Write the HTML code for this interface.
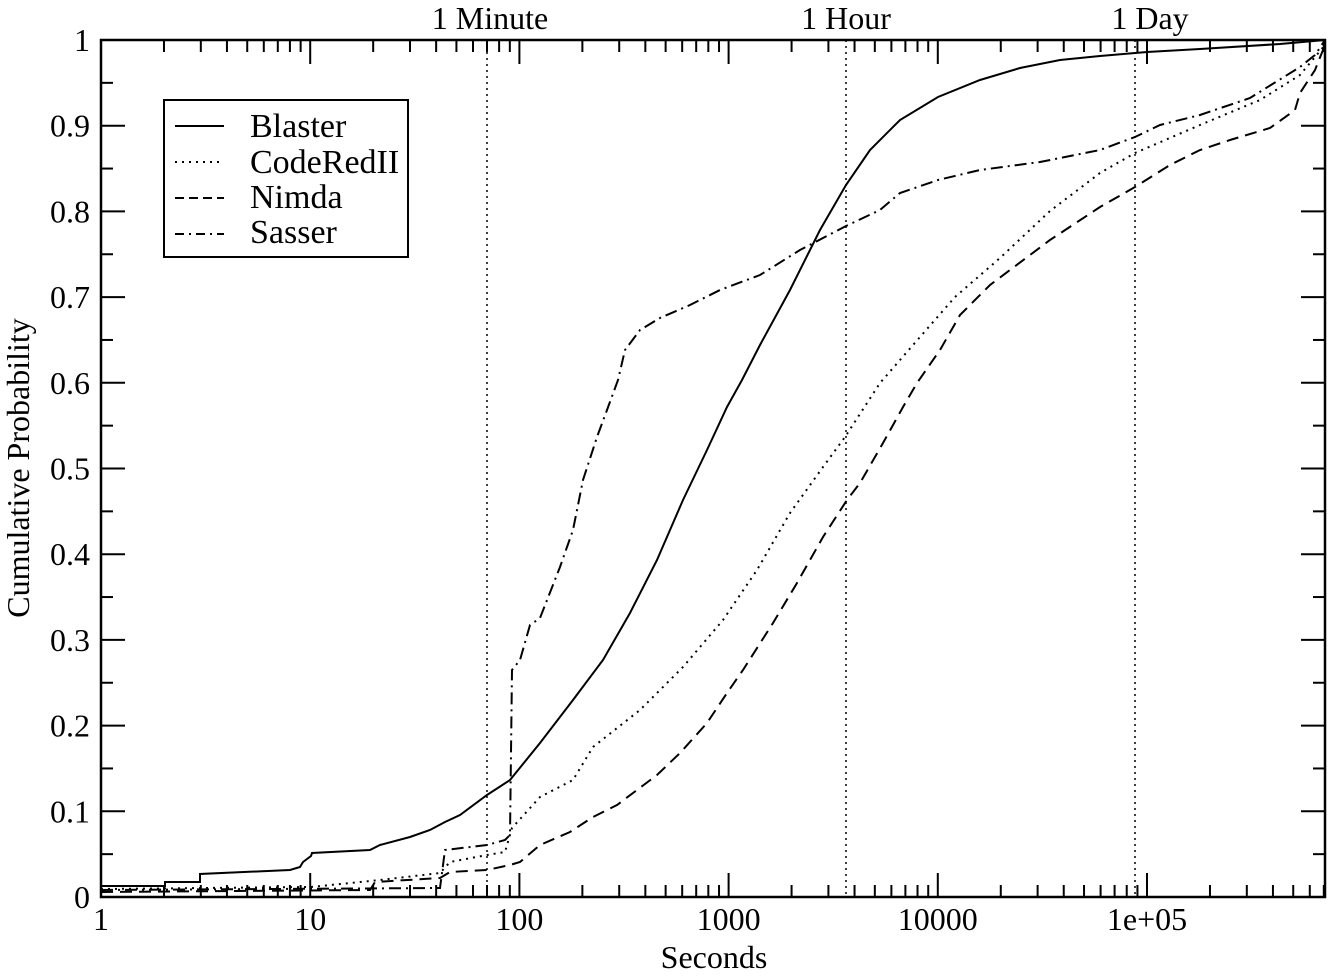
<!DOCTYPE html>
<html><head><style>html,body{margin:0;padding:0;background:#fff}svg{display:block}text{font-family:"Liberation Serif",serif;font-size:32px;fill:#000}</style></head>
<body>
<svg width="1340" height="976" viewBox="0 0 1340 976" xmlns="http://www.w3.org/2000/svg">
<g stroke="#000" stroke-width="1.5" stroke-dasharray="2,4" fill="none">
<line x1="487" y1="40" x2="487" y2="897"/><line x1="846" y1="40" x2="846" y2="897"/><line x1="1135" y1="40" x2="1135" y2="897"/>
</g>
<g id="ticks" stroke="#000" stroke-width="2"></g>
<g fill="none" stroke="#000" stroke-width="2">
<polyline points="101,886 165,886 165,882 200,882 200,874 290,870 300,867 303,862 311,856 312,853 370,850 380,845 410,837 430,830 445,822 460,815 487,795 510,780 540,743 573,700 603,660 630,613 657,560 683,500 707,450 727,407 742,380 760,345 790,290 820,230 846,185 870,150 900,120 938,97 980,80 1020,68 1060,60 1100,56 1147,52 1200,49 1280,44 1325,40"/>
<polyline stroke-dasharray="2,5" points="101,889 311,887 380,880 440,873 450,862 487,855 505,852 512,828 540,797 573,780 593,747 640,710 683,667 723,620 757,570 790,513 823,467 845,437 880,383 920,337 955,297 1000,258 1050,211 1100,173 1135,153 1200,125 1260,100 1300,75 1325,45"/>
<polyline stroke-dasharray="12,7" points="101,892 370,890 375,882 440,878 450,872 487,870 510,865 520,862 540,845 570,832 593,817 617,805 657,775 680,753 707,723 727,693 743,670 773,623 797,583 823,537 847,500 860,483 883,443 903,407 917,383 940,350 960,315 990,285 1050,240 1100,207 1135,187 1170,165 1200,150 1230,140 1270,128 1295,110 1300,93 1315,70 1325,45"/>
<polyline stroke-dasharray="12,5,2,5" points="101,890 440,888 445,850 487,845 505,840 510,835 512,670 520,660 530,625 540,618 560,567 573,530 583,480 597,437 607,410 618,380 625,350 640,330 660,318 690,305 720,290 760,275 800,250 846,226 880,210 900,193 938,180 980,170 1040,162 1100,150 1135,137 1160,125 1200,115 1250,98 1300,67 1315,55 1325,40"/>
</g>
<rect x="101" y="40" width="1224" height="857" fill="none" stroke="#000" stroke-width="2.5"/>
<g id="labels"></g>
<text x="490" y="29" text-anchor="middle">1 Minute</text>
<text x="846" y="29" text-anchor="middle">1 Hour</text>
<text x="1150" y="29" text-anchor="middle">1 Day</text>
<text x="714" y="968" text-anchor="middle">Seconds</text>
<text transform="translate(29,468) rotate(-90)" text-anchor="middle">Cumulative Probability</text>
<rect x="164" y="100" width="244" height="157" fill="#fff" stroke="#000" stroke-width="2"/>
<g stroke="#000" stroke-width="2">
<line x1="175" y1="126" x2="224" y2="126"/>
<line x1="175" y1="162" x2="224" y2="162" stroke-dasharray="2,5"/>
<line x1="175" y1="198" x2="224" y2="198" stroke-dasharray="9,5"/>
<line x1="175" y1="234" x2="224" y2="234" stroke-dasharray="9,5,2,5"/>
</g>
<text x="250" y="137" style="font-size:34px">Blaster</text>
<text x="250" y="173" style="font-size:34px">CodeRedII</text>
<text x="250" y="208" style="font-size:34px">Nimda</text>
<text x="250" y="243" style="font-size:34px">Sasser</text>
</svg>
<script>
(function(){
var ns="http://www.w3.org/2000/svg",T=document.getElementById("ticks"),L=document.getElementById("labels");
function ln(a,b,c,d){var l=document.createElementNS(ns,"line");l.setAttribute("x1",a);l.setAttribute("y1",b);l.setAttribute("x2",c);l.setAttribute("y2",d);T.appendChild(l);}
function tx(x,y,s,anc){var t=document.createElementNS(ns,"text");t.setAttribute("x",x);t.setAttribute("y",y);t.setAttribute("text-anchor",anc);t.textContent=s;L.appendChild(t);}
var x0=101,dec=209.2,yt=40,yb=897;
for(var d=0;d<6;d++){for(var m=1;m<10;m++){var x=x0+dec*(d+Math.log10(m));if(x>1325)break;var len=m==1?24:12;ln(x,yb,x,yb-len);ln(x,yt,x,yt+len);}}
var xl=["1","10","100","1000","10000","1e+05"];
for(var d=0;d<6;d++)tx(x0+dec*d,930,xl[d],"middle");
for(var i=0;i<=20;i++){var y=yb-i*(yb-yt)/20;var len=i%2==0?24:12;ln(x0,y,x0+len,y);ln(1325,y,1325-len,y);
if(i%2==0){var v=i/20;tx(90,y+11,v==0?"0":v==1?"1":v.toFixed(1),"end");}}
})();
</script>
</body></html>
